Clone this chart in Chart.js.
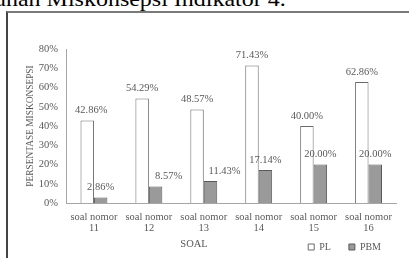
<!DOCTYPE html>
<html>
<head>
<meta charset="utf-8">
<script src="https://cdn.jsdelivr.net/npm/chart.js@4.4.1/dist/chart.umd.min.js"></script>
<style>
  html, body { margin: 0; padding: 0; background: #ffffff; overflow: hidden; }
  #wrap { position: relative; width: 409px; height: 258px; overflow: hidden; background: #fff; }
  #doctitle {
    position: absolute; left: -6px; top: -12px; white-space: nowrap;
    font-family: 'Liberation Serif', 'Times New Roman', serif; font-size: 22px; line-height: 22px;
    color: #000; transform: scaleX(1.09); transform-origin: left top;
  }
  #frame {
    position: absolute; left: 6px; top: 11px; width: 420px; height: 270px;
    border-top: 2px solid #7a7a7a; border-left: 2px solid #444;
  }
  #chart { position: absolute; left: 0; top: 0; }
</style>
</head>
<body>
<div id="wrap">
  <div id="doctitle">unan Miskonsepsi Indikator 4.</div>
  <div id="frame"></div>
  <canvas id="chart" width="409" height="258"></canvas>
</div>
<script>
// ---- data ----
const categories = [
  ['soal nomor', '11'],
  ['soal nomor', '12'],
  ['soal nomor', '13'],
  ['soal nomor', '14'],
  ['soal nomor', '15'],
  ['soal nomor', '16']
];
const seriesNames = ['PL', 'PBM'];
const plValues  = [42.86, 54.29, 48.57, 71.43, 40.00, 62.86];
const pbmValues = [2.86, 8.57, 11.43, 17.14, 20.00, 20.00];
const yTickValues = [0, 10, 20, 30, 40, 50, 60, 70, 80];
const yAxisTitle = 'PERSENTASE MISKONSEPSI';
const xAxisTitle = 'SOAL';

// ---- style ----
const SERIF = "'Liberation Serif', 'Times New Roman', serif";
const TEXT = '#595959';

const valueLabels = {
  id: 'valueLabels',
  afterLayout(chart, args, opts) {
    // move the legend box to sit beside the x-axis title, like the reference
    const lg = chart.legend;
    if (lg) {
      lg.top = opts.legendTop;
      lg.bottom = opts.legendTop + 40;
      lg.left += opts.legendShiftX;
      lg.right += opts.legendShiftX;
    }
  },
  afterDatasetsDraw(chart, args, opts) {
    const ctx = chart.ctx;
    ctx.save();
    ctx.font = `10.5px ${SERIF}`;
    ctx.fillStyle = TEXT;
    ctx.textAlign = 'center';
    ctx.textBaseline = 'middle';
    chart.data.datasets.forEach((ds, di) => {
      const meta = chart.getDatasetMeta(di);
      const nudges = opts.nudgeX[di] || [];
      meta.data.forEach((bar, i) => {
        const v = ds.data[i];
        ctx.fillText(v.toFixed(2) + '%', bar.x + (nudges[i] || 0), bar.y - 10);
      });
    });
    // x axis title
    const ca = chart.chartArea;
    ctx.fillText(opts.xTitle, ca.left + ca.width * 0.387, 244);
    ctx.restore();
  }
};

new Chart(document.getElementById('chart'), {
  type: 'bar',
  data: {
    labels: categories,
    datasets: [
      {
        label: seriesNames[0],
        data: plValues,
        backgroundColor: '#ffffff',
        borderColor: '#6b6b6b',
        borderWidth: 1
      },
      {
        label: seriesNames[1],
        data: pbmValues,
        backgroundColor: '#9a9a9a',
        borderColor: '#5a5a5a',
        borderWidth: 1
      }
    ]
  },
  options: {
    responsive: false,
    animation: false,
    events: [],
    layout: { padding: { left: 21, right: 13, top: 49, bottom: -2 } },
    datasets: { bar: { categoryPercentage: 0.49, barPercentage: 1.0 } },
    scales: {
      x: {
        grid: { display: false, drawTicks: false },
        border: { display: true, color: '#a6a6a6', width: 1 },
        ticks: {
          color: TEXT, font: { family: SERIF, size: 10.5, lineHeight: 1.05 },
          padding: 8.5, maxRotation: 0, autoSkip: false
        },
        afterFit(scale) { scale.height = 33; }
      },
      y: {
        min: 0, max: 80,
        grid: { display: false, drawTicks: false },
        border: { display: true, color: '#a6a6a6', width: 1 },
        afterBuildTicks(scale) { scale.ticks = yTickValues.map(v => ({ value: v })); },
        ticks: {
          color: TEXT, font: { family: SERIF, size: 10.5 }, padding: 8.5,
          callback: (v) => v + '%'
        },
        title: {
          display: true, text: yAxisTitle, color: TEXT,
          font: { family: SERIF, size: 9.4 }, padding: { top: 4, bottom: 0 }
        },
        afterFit(scale) { scale.width = 45.5; }
      }
    },
    plugins: {
      legend: {
        position: 'bottom', align: 'end', maxHeight: 24,
        labels: {
          color: TEXT, font: { family: SERIF, size: 10 },
          boxWidth: 6, boxHeight: 6, padding: 18
        }
      },
      tooltip: { enabled: false },
      valueLabels: {
        nudgeX: [[4, 0, 0, 0, 0, 0], [0, 13, 14, 0, 0, 0]],
        xTitle: xAxisTitle,
        legendTop: 224,
        legendShiftX: 3
      }
    }
  },
  plugins: [valueLabels]
});
</script>
</body>
</html>
